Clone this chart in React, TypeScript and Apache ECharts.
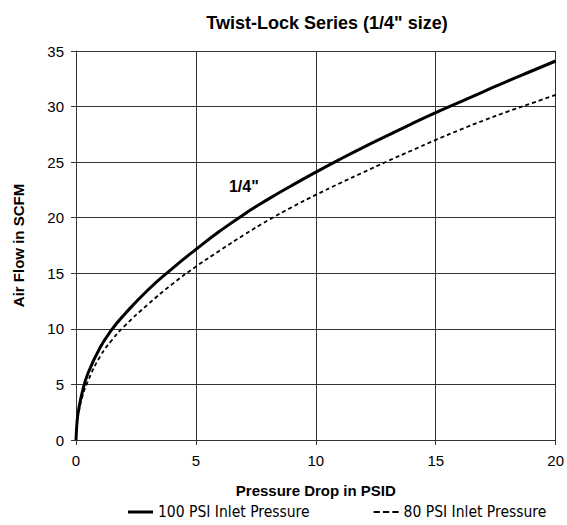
import React, { useEffect, useRef } from "react";
import * as echarts from "echarts";

const pressureDrop = [0, 0.05, 0.1, 0.25, 0.5, 1, 1.5, 2, 3, 4, 5, 6, 7, 8, 9, 10, 11, 12, 13, 14, 15, 16, 17, 18, 19, 20];
const flow100 = [0, 1.8, 2.6, 4.2, 6, 8.3, 9.95, 11.25, 13.5, 15.4, 17.15, 18.8, 20.3, 21.65, 22.9, 24.1, 25.25, 26.35, 27.4, 28.45, 29.45, 30.4, 31.35, 32.3, 33.2, 34.1];
const flow80 = [0, 1.6, 2.3, 3.8, 5.3, 7.5, 9, 10.2, 12.2, 14, 15.6, 17.05, 18.45, 19.75, 20.95, 22.05, 23.1, 24.1, 25.1, 26.05, 27.0, 27.9, 28.75, 29.55, 30.3, 31.05];
const labelPoint = [7, 20.3];
const labelText = '1/4"';
const seriesNames = ["100 PSI Inlet Pressure", "80 PSI Inlet Pressure"];

export default function App() {
  const ref = useRef<HTMLDivElement>(null);
  useEffect(() => {
    const chart = echarts.init(ref.current!, null, { renderer: "svg" });
    const font = "Liberation Sans, Arial, sans-serif";
    const legendFont = "DejaVu Sans Condensed, DejaVu Sans, sans-serif";
    chart.setOption({
      animation: false,
      title: {
        text: "Twist-Lock Series (1/4\" size)",
        left: 322,
        top: 9,
        textAlign: "center",
        textStyle: { fontFamily: font, fontSize: 18, fontWeight: "bold", color: "#000" },
      },
      grid: { left: 76, right: 11, top: 51, bottom: 85 },
      xAxis: {
        type: "value",
        min: 0,
        max: 20,
        interval: 5,
        name: "Pressure Drop in PSID",
        nameLocation: "middle",
        nameGap: 43,
        nameTextStyle: { fontFamily: font, fontSize: 15, fontWeight: "bold", color: "#000" },
        axisLine: { show: true, lineStyle: { color: "#333", width: 1 } },
        axisTick: { show: true, length: 5, lineStyle: { color: "#333" } },
        axisLabel: { fontFamily: font, fontSize: 15, color: "#000", margin: 13 },
        splitLine: { show: true, lineStyle: { color: "#333", width: 1 } },
      },
      yAxis: {
        type: "value",
        min: 0,
        max: 35,
        interval: 5,
        name: "Air Flow in SCFM",
        nameLocation: "middle",
        nameGap: 50,
        nameTextStyle: { fontFamily: font, fontSize: 15, fontWeight: "bold", color: "#000" },
        axisLine: { show: true, lineStyle: { color: "#333", width: 1 } },
        axisTick: { show: true, length: 5, lineStyle: { color: "#333" } },
        axisLabel: { fontFamily: font, fontSize: 15, color: "#000", margin: 12 },
        splitLine: { show: true, lineStyle: { color: "#333", width: 1 } },
      },
      legend: {
        bottom: 0,
        left: 123,
        itemWidth: 25,
        itemHeight: 3,
        itemGap: 64,
        textStyle: { fontFamily: legendFont, fontSize: 15.5, color: "#000" },
        data: [
          { name: seriesNames[0], icon: "rect", itemStyle: { color: "#000" } },
          {
            name: seriesNames[1],
            icon: "path://M0,0h6v2h-6z M9,0h6v2h-6z M18,0h6v2h-6z",
            itemStyle: { color: "#000" },
          },
        ],
      },
      series: [
        {
          name: seriesNames[0],
          type: "line",
          symbol: "none",
          smooth: 0.5,
          lineStyle: { color: "#000", width: 3 },
          itemStyle: { color: "#000" },
          data: pressureDrop.map((x, i) => [x, flow100[i]]),
          markPoint: {
            symbol: "circle",
            symbolSize: 0,
            silent: true,
            label: {
              show: true,
              formatter: labelText,
              position: "top",
              distance: 20,
              fontFamily: font,
              fontSize: 16,
              fontWeight: "bold",
              color: "#000",
            },
            data: [{ coord: labelPoint }],
          },
        },
        {
          name: seriesNames[1],
          type: "line",
          symbol: "none",
          smooth: 0.5,
          lineStyle: { color: "#000", width: 1.8, type: [4, 3] },
          itemStyle: { color: "#000" },
          data: pressureDrop.map((x, i) => [x, flow80[i]]),
        },
      ],
    });
    return () => chart.dispose();
  }, []);
  return <div ref={ref} style={{ width: 567, height: 525, position: "absolute", left: 0, top: 0 }} />;
}
